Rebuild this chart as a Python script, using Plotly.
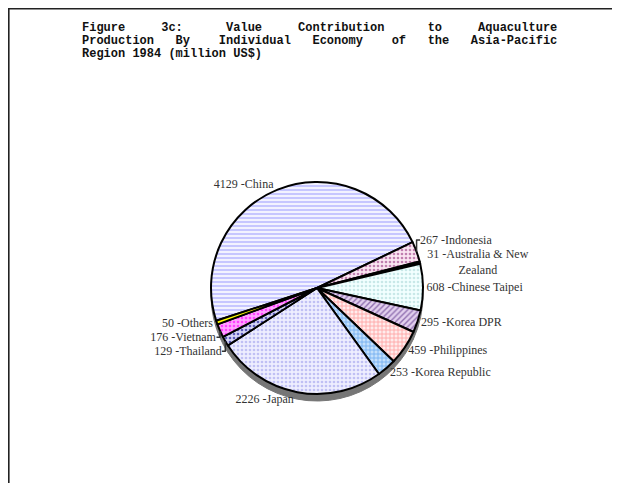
import plotly.graph_objects as go

# The page body adds an 8px margin, so the figure is sized and laid out to compensate.
OFF = 8
W, H = 620 - OFF, 483 - OFF

economies = ["China", "Indonesia", "Australia & New<br>Zealand", "Chinese Taipei",
             "Korea DPR", "Philippines", "Korea Republic", "Japan",
             "Thailand", "Vietnam", "Others"]
values = [4129, 267, 31, 608, 295, 459, 253, 2226, 129, 176, 50]

bg_colors = ["#f2f2ff", "#fbe6f2", "#000000", "#f2ffff", "#e2d0ee", "#ffecec",
             "#c4e0fb", "#eeeeff", "#d6d6f6", "#ffa6ff", "#ffff00"]
fg_colors = ["#b4b4ff", "#c080b0", "#000000", "#c8e8e8", "#9070b0", "#ff9c9c",
             "#6aaaf0", "#c0c0f4", "#5a5ab8", "#ff40ff", "#ffff00"]
shapes_pat = ["-", ".", "", ".", "/", "+", "+", ".", ".", ".", ""]

NB = "\u00a0"
title_lines = [
    ("Figure", "3c:", "Value", "Contribution", "to", "Aquaculture"),
    ("Production", "By", "Individual", "Economy", "of", "the", "Asia-Pacific"),
    ("Region", "1984", "(million", "US$)"),
]
gap_sizes = [[5, 6, 5, 6, 5], [3, 4, 3, 4, 3, 3], [1, 1, 1]]


def join_words(words, sizes):
    out = words[0]
    for w, n in zip(words[1:], sizes):
        out += NB * (n - 1) + " " + w
    return out


def px_x(x):
    return (x - OFF) / W


def px_y(y):
    return 1 - (y - OFF) / H


cx, cy, r = 317, 288, 106
dom_x = [px_x(cx - r), px_x(cx + r)]
dom_y = [px_y(cy + r), px_y(cy - r)]
sh = 7
dom_y_sh = [px_y(cy + r + sh), px_y(cy - r + sh)]

fig = go.Figure()

# 3-D style shadow underneath
fig.add_trace(go.Pie(
    values=values, labels=economies, sort=False, direction="clockwise", rotation=252,
    domain=dict(x=dom_x, y=dom_y_sh),
    marker=dict(colors=["#767676"] * len(values), line=dict(color="#767676", width=1)),
    textinfo="none", hoverinfo="skip", showlegend=False,
))

fig.add_trace(go.Pie(
    values=values, labels=economies, sort=False, direction="clockwise", rotation=252,
    domain=dict(x=dom_x, y=dom_y),
    marker=dict(colors=bg_colors, line=dict(color="#000000", width=2),
                pattern=dict(shape=shapes_pat, fgcolor=fg_colors, bgcolor=bg_colors,
                             size=4, solidity=0.35, fillmode="replace")),
    texttemplate="%{value:d} -%{label}", textposition="outside",
    textfont=dict(family="Liberation Serif", size=12, color="#333333"),
    showlegend=False,
))

for i, words in enumerate(title_lines):
    fig.add_annotation(
        x=px_x(80), y=px_y(28 + 13 * i), xref="paper", yref="paper",
        xanchor="left", yanchor="middle", showarrow=False,
        text="<b>" + join_words(words, gap_sizes[i]) + "</b>",
        font=dict(family="Liberation Mono", size=12, color="#111111"),
    )

fig.add_shape(type="rect", xref="paper", yref="paper",
              x0=0.8 / W, x1=1.05, y0=-0.05, y1=1 - 0.8 / H,
              line=dict(color="#222222", width=1.6), fillcolor="rgba(0,0,0,0)")

fig.update_layout(
    width=W, height=H, margin=dict(l=0, r=0, t=0, b=0),
    paper_bgcolor="white", plot_bgcolor="white", showlegend=False,
)

fig.write_html("out.html")
